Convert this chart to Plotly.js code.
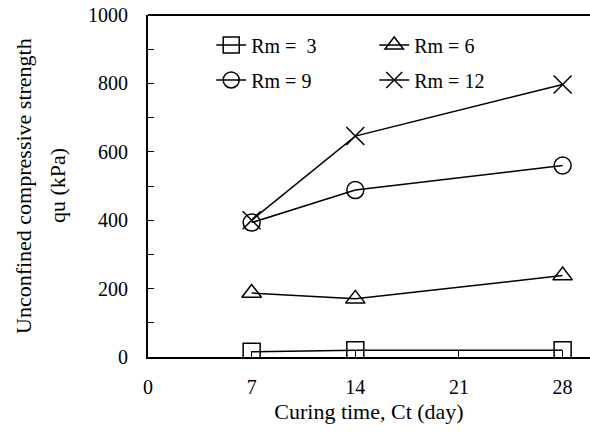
<!DOCTYPE html>
<html><head><meta charset="utf-8">
<script src="https://cdn.plot.ly/plotly-3.0.1.min.js"></script>
<style>body{margin:0;background:#fff}#c{width:590px;height:436px}</style>
</head><body><div id="c"></div>
<script>
const days = [7, 14, 28];
const seriesNames = ['Rm =\u00a0\u00a03', 'Rm = 6', 'Rm = 9', 'Rm = 12'];
const rm3 = [15, 20, 20];
const rm6 = [187, 170, 238];
const rm9 = [393, 488, 560];
const rm12 = [400, 646, 797];
const xTicks = [0, 7, 14, 21, 28];
const yTicks = [0, 200, 400, 600, 800, 1000];
const yTitleLines = ['Unconfined compressive strength', 'qu (kPa)'];

const FAM = 'Liberation Serif';
const symbols = ['square-open', 'triangle-up-open', 'circle-open', 'x-thin-open'];
const legendOf = ['legend', 'legend', 'legend2', 'legend2'];
const data = [rm3, rm6, rm9, rm12].map((v, i) => ({
  x: days, y: v, name: seriesNames[i], type: 'scatter', mode: 'lines+markers',
  legend: legendOf[i],
  line: {color: '#000', width: 1.5},
  marker: {symbol: symbols[i], size: i === 3 ? 18 : 17, color: '#000', line: {color: '#000', width: 1.5}}
}));

const tf = {family: FAM, color: '#000', size: 20};
const legBase = {orientation: 'h', x: 0.143, xanchor: 'left', yanchor: 'middle',
  entrywidth: 118, font: {family: FAM, size: 20, color: '#000'}, bgcolor: 'rgba(0,0,0,0)'};
const layout = {
  width: 590, height: 436,
  margin: {l: 148, r: 0, t: 15, b: 79},
  paper_bgcolor: '#fff', plot_bgcolor: '#fff',
  font: {family: FAM, color: '#000', size: 20},
  showlegend: true,
  legend: Object.assign({}, legBase, {y: 0.912}),
  legend2: Object.assign({}, legBase, {y: 0.81}),
  xaxis: {range: [0, 29.85], tickvals: xTicks, ticktext: xTicks.map(String),
    ticks: 'inside', ticklen: 6, tickcolor: '#000', tickwidth: 1, tickfont: tf,
    showline: true, linecolor: '#000', linewidth: 2, showgrid: false, zeroline: false,
    ticklabelstandoff: 11,
    title: {text: 'Curing time, Ct (day)', font: {family: FAM, size: 22, color: '#000'}, standoff: 7}},
  yaxis: {range: [0, 1000], tickvals: yTicks, ticktext: yTicks.map(String),
    ticks: 'inside', ticklen: 6, tickcolor: '#000', tickwidth: 1, tickfont: tf,
    minor: {dtick: 100, ticks: 'inside', ticklen: 6, tickcolor: '#000', showgrid: false},
    showline: true, linecolor: '#000', linewidth: 2, showgrid: false, zeroline: false,
    ticklabelstandoff: 14},
  annotations: yTitleLines.map((t, i) => ({
    text: t, textangle: -90, showarrow: false, xref: 'paper', yref: 'paper',
    x: 0, y: 0.5, xanchor: 'center', yanchor: 'middle',
    xshift: i === 0 ? -125 : -91,
    font: {family: FAM, size: 22, color: '#000'}})),
  shapes: [{type: 'line', xref: 'paper', yref: 'paper', x0: 0, x1: 1, y0: 1, y1: 1,
    line: {color: '#000', width: 2}}]
};
Plotly.newPlot('c', data, layout, {displayModeBar: false, staticPlot: true});
</script></body></html>
